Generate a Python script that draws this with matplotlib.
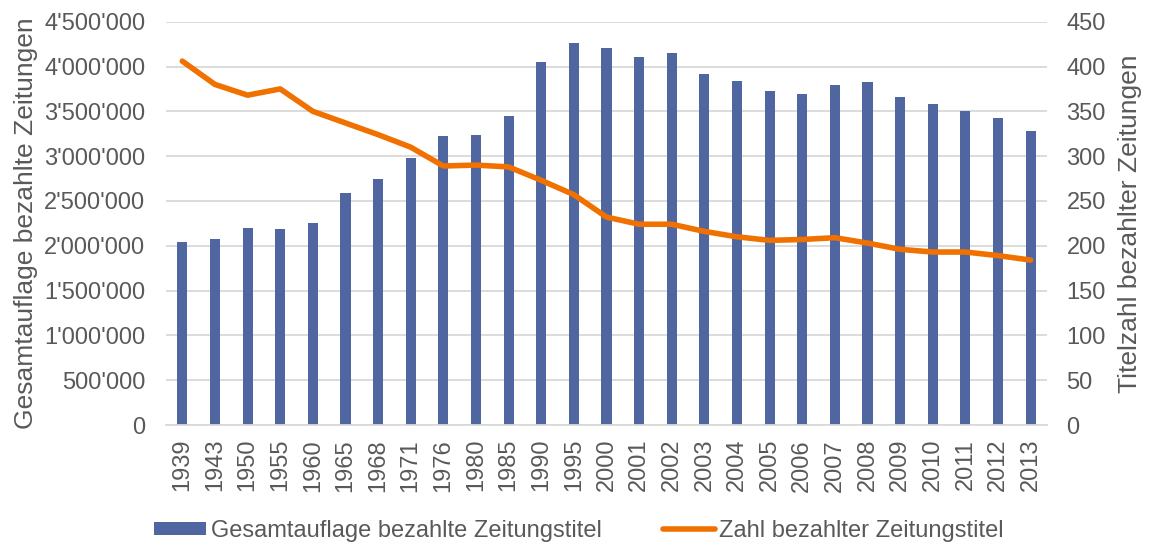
import matplotlib.pyplot as plt
from matplotlib.ticker import FuncFormatter
import numpy as np

plt.rcParams['font.family'] = ['Liberation Sans', 'DejaVu Sans']

jahre = ['1939', '1943', '1950', '1955', '1960', '1965', '1968', '1971', '1976',
         '1980', '1985', '1990', '1995', '2000', '2001', '2002', '2003', '2004',
         '2005', '2006', '2007', '2008', '2009', '2010', '2011', '2012', '2013']
auflage = [2042000, 2075000, 2202000, 2183000, 2250000, 2589000, 2749000, 2975000,
           3221000, 3240000, 3448000, 4047000, 4259000, 4207000, 4103000, 4151000,
           3913000, 3835000, 3730000, 3697000, 3794000, 3827000, 3663000, 3578000,
           3504000, 3425000, 3277000]
titel = [406, 380, 368, 375, 350, 337, 324, 310, 289, 290, 288, 273, 257, 232,
         224, 224, 216, 210, 206, 207, 209, 203, 196, 193, 193, 189, 184]

grau = '#595959'
blau = '#4f66a1'
orange = '#f07000'

fig = plt.figure(figsize=(11.51, 5.45), dpi=100)
ax = fig.add_axes([166 / 1151, 1 - 425 / 545, (1047 - 166) / 1151, (425 - 21.7) / 545])
ax2 = ax.twinx()

x = np.arange(len(jahre))
bars = ax.bar(x, auflage, width=0.31, color=blau, zorder=2,
              label='Gesamtauflage bezahlte Zeitungstitel')
line, = ax2.plot(x, titel, color=orange, lw=4, solid_capstyle='round',
                 label='Zahl bezahlter Zeitungstitel')

ax.set_xlim(-0.5, len(jahre) - 0.5)
ax.set_ylim(0, 4500000)
ax.set_yticks(np.arange(0, 4500001, 500000))
ax.yaxis.set_major_formatter(FuncFormatter(lambda v, p: f'{int(v):,}'.replace(',', "'")))
ax2.set_ylim(0, 450)
ax2.set_yticks(np.arange(0, 451, 50))

ax.set_xticks(x)
ax.set_xticklabels(jahre, rotation=90)
ax.grid(axis='y', color='#d9d9d9', lw=1.3, zorder=0)
ax.set_axisbelow(True)

for a in (ax, ax2):
    for s in a.spines.values():
        s.set_visible(False)
    a.tick_params(length=0, labelsize=17, colors=grau)
ax.spines['bottom'].set_visible(True)
ax.spines['bottom'].set_color('#d9d9d9')
ax.spines['bottom'].set_linewidth(1.3)
ax.tick_params(axis='y', pad=15)
ax.tick_params(axis='x', pad=10)
ax2.tick_params(axis='y', pad=14)

ax.set_ylabel('Gesamtauflage bezahlte Zeitungen', fontsize=19, color=grau, labelpad=4)
ax2.set_ylabel('Titelzahl bezahlter Zeitungen', fontsize=19, color=grau, labelpad=9)

fig.legend([bars, line], [bars.get_label(), line.get_label()], loc='center',
           bbox_to_anchor=(579 / 1151, 1 - 531 / 545), ncol=2, frameon=False,
           fontsize=17, labelcolor=grau, handlelength=2.2, handleheight=0.5,
           handletextpad=0.2, columnspacing=2.6, borderpad=0)

fig.savefig('out.png', dpi=100)
